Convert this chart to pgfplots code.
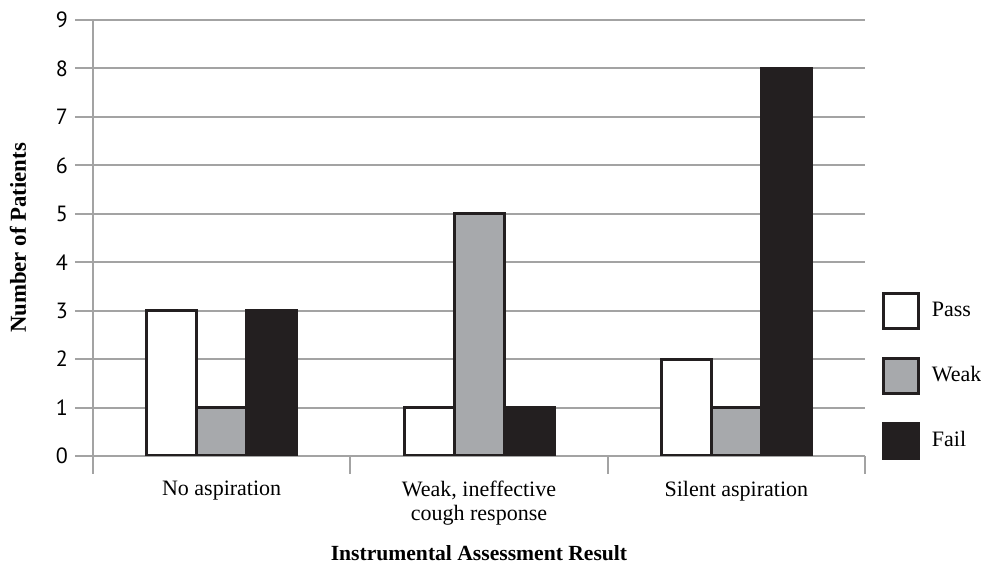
\documentclass[border=0pt]{standalone}
\usepackage{fontspec}
\setmainfont{Liberation Serif}
\setsansfont{PT Sans}
\usepackage{pgfplots}
\pgfplotsset{compat=1.18}
\definecolor{gridgray}{HTML}{A3A3A3}
\definecolor{weakgray}{HTML}{A7A9AC}
\definecolor{ink}{HTML}{231F20}
\begin{document}
\begin{tikzpicture}
\useasboundingbox (-46.5pt,-55.5pt) rectangle (444pt,228pt);
\begin{axis}[
  scale only axis, width=386pt, height=218pt,
  at={(0,0)}, anchor=south west,
  ymin=0, ymax=9, ytick={0,...,9},
  xmin=-0.5, xmax=2.5,
  xtick={-0.5,0.5,1.5,2.5}, xticklabels={},
  extra x ticks={0,1,2},
  extra x tick labels={No aspiration,{Weak, ineffective\\cough response},Silent aspiration},
  extra x tick style={major tick length=0pt, grid=none,
    xticklabel style={align=center, yshift=-9pt}},
  xticklabel style={font=\fontsize{11}{12}\selectfont},
  yticklabel style={font=\sffamily\fontsize{11}{13}\selectfont},
  /pgf/number format/assume math mode=true,
  axis lines*=left,
  axis line style={gridgray, line width=1pt},
  tick style={gridgray, line width=1pt},
  major tick length=9pt,
  tick align=outside,
  ymajorgrids, grid style={gridgray, line width=1pt},
  ybar=0pt, bar width=25pt,
  ylabel={Number of Patients},
  ylabel style={font=\fontsize{11.4}{13}\selectfont\bfseries, at={(axis description cs:-0.0972,0.5)}, anchor=center},
  xlabel={Instrumental Assessment Result},
  xlabel style={font=\fontsize{10.8}{13}\selectfont\bfseries, at={(axis description cs:0.5,-0.2225)}, anchor=center},
  legend image code/.code={\draw[#1, line width=1.5pt] (0pt,-8.75pt) rectangle (17.5pt,8.75pt);},
  legend style={draw=none, fill=none, at={(axis description cs:1,0)}, anchor=south west,
    xshift=8.5pt, yshift=-2pt, row sep=13.5pt, column sep=5pt,
    font=\fontsize{11}{13}\selectfont,
    inner sep=0pt, nodes={inner sep=0.75pt}},
  legend cell align=left,
]
\addplot[draw=ink, fill=white, line width=1.5pt] coordinates {(0,3) (1,1) (2,2)};
\addlegendentry{Pass}
\addplot[draw=ink, fill=weakgray, line width=1.5pt] coordinates {(0,1) (1,5) (2,1)};
\addlegendentry{Weak}
\addplot[draw=ink, fill=ink, line width=1.5pt] coordinates {(0,3) (1,1) (2,8)};
\addlegendentry{Fail}
\end{axis}
\end{tikzpicture}
\end{document}
